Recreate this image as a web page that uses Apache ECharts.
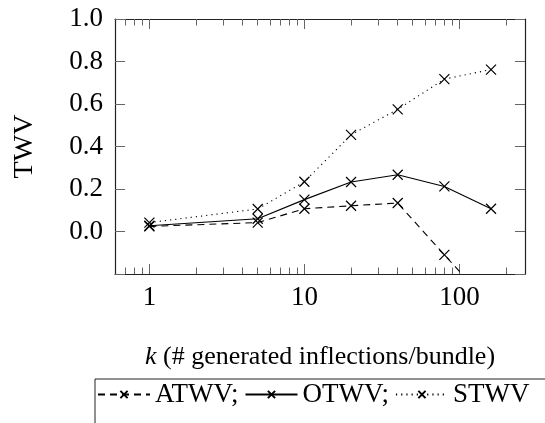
<!DOCTYPE html>
<html><head><meta charset="utf-8">
<script src="https://cdn.jsdelivr.net/npm/echarts@6/dist/echarts.min.js"></script>
<style>html,body{margin:0;padding:0;background:#fff}#c{width:545px;height:423px}</style>
</head><body><div id="c"></div>
<script>
const kValues = [1, 5, 10, 20, 40, 80, 160];
const atwv = [0.024, 0.042, 0.107, 0.121, 0.134, -0.110, -0.35];
const otwv = [0.027, 0.060, 0.150, 0.233, 0.267, 0.212, 0.107];
const stwv = [0.042, 0.106, 0.234, 0.455, 0.575, 0.717, 0.762];
const seriesNames = ['ATWV', 'OTWV', 'STWV'];
const xMajorTicks = [1, 10, 100];
const xMinorTicks = [0.7, 0.8, 0.9, 2, 3, 4, 5, 6, 7, 8, 9, 20, 30, 40, 50, 60, 70, 80, 90, 200];
const xMin = 0.6, xMax = 265;
const yMin = -0.2, yMax = 1.0, yStep = 0.2;

const FONT = '"Liberation Serif", "Times New Roman", serif';
const CROSS = 'path://M0,0L10,10M0,10L10,0';
const TICK = {color: '#666', width: 1};
const chart = echarts.init(document.getElementById('c'), null, {renderer: 'canvas'});

function xAxisDef(pos, ticks, len, withLabels, withLine) {
  return {
    type: 'log', min: xMin, max: xMax, position: pos,
    axisLine: {show: withLine, onZero: false, lineStyle: {color: '#222', width: 1.2}},
    axisTick: {show: true, inside: true, length: len, customValues: ticks, lineStyle: TICK},
    axisLabel: withLabels ? {show: true, customValues: ticks, margin: 10, color: '#000', fontFamily: FONT, fontSize: 27,
      formatter: v => String(Math.round(v))} : {show: false},
    splitLine: {show: false}, minorTick: {show: false}, minorSplitLine: {show: false}
  };
}
const xAxes = [
  Object.assign(xAxisDef('bottom', xMajorTicks, 10, true, true), {
    name: '{i|k} (# generated inflections/bundle)', nameLocation: 'middle', nameGap: 70,
    nameTextStyle: {color: '#000', fontFamily: FONT, fontSize: 26,
      rich: {i: {fontStyle: 'italic', fontFamily: FONT, fontSize: 26, color: '#000'}}}
  }),
  xAxisDef('bottom', xMinorTicks, 6.5, false, false),
  xAxisDef('top', xMajorTicks, 10, false, true),
  xAxisDef('top', xMinorTicks, 6.5, false, false)
];
function yAxisDef(pos, withLabels) {
  return {
    type: 'value', min: yMin, max: yMax, interval: yStep, position: pos,
    axisLine: {show: true, onZero: false, lineStyle: {color: '#222', width: 1.2}},
    axisTick: {show: true, inside: true, length: 10, lineStyle: TICK},
    axisLabel: withLabels ? {show: true, margin: 12, color: '#000', fontFamily: FONT, fontSize: 27,
      formatter: v => (Math.abs(v - yMin) < 1e-9 ? '' : v.toFixed(1))} : {show: false},
    splitLine: {show: false}
  };
}
const yAxes = [
  Object.assign(yAxisDef('left', true), {
    name: 'TWV', nameLocation: 'middle', nameGap: 76, nameRotate: 90,
    nameTextStyle: {color: '#000', fontFamily: FONT, fontSize: 28}
  }),
  yAxisDef('right', false)
];
const styles = {
  ATWV: {type: [7, 5]},
  OTWV: {type: 'solid'},
  STWV: {type: [1.2, 4]}
};
const values = {ATWV: atwv, OTWV: otwv, STWV: stwv};
const series = seriesNames.map(n => ({
  name: n, type: 'line', xAxisIndex: 0, yAxisIndex: 0,
  data: kValues.map((k, i) => [k, values[n][i]]),
  symbol: CROSS, symbolSize: 10, showSymbol: true, clip: true,
  lineStyle: Object.assign({color: '#000', width: 1.1}, styles[n]),
  itemStyle: {color: '#000', borderColor: '#000', borderWidth: 1.2},
  emphasis: {disabled: true}
}));

chart.setOption({
  animation: false,
  backgroundColor: '#fff',
  grid: {left: 115, right: 20, top: 19, bottom: 149, containLabel: false},
  xAxis: xAxes, yAxis: yAxes, series: series,
  legend: {
    show: true, data: seriesNames, left: 97, top: 381, orient: 'horizontal',
    itemWidth: 52, itemHeight: 9, itemGap: 6, padding: 0,
    formatter: n => (n === 'STWV' ? n : n + ';'),
    textStyle: {color: '#000', fontFamily: FONT, fontSize: 27},
    selectedMode: false
  },
  graphic: [{
    type: 'rect', silent: true, z: 0,
    shape: {x: 95, y: 379, width: 600, height: 200},
    style: {fill: 'none', stroke: '#222', lineWidth: 1}
  }]
});
</script></body></html>
